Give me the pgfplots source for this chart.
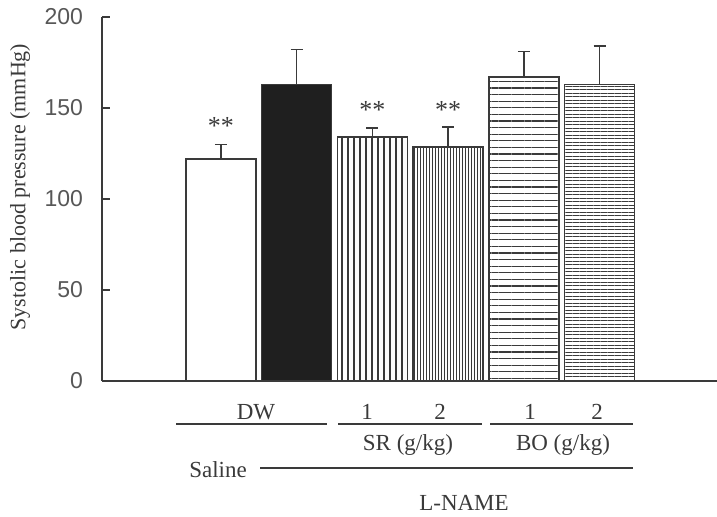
\documentclass[border=0pt]{standalone}
\usepackage{fontspec}
\setmainfont{Liberation Serif}
\newfontfamily\arialfont{Liberation Sans}
\usepackage{pgfplots}
\pgfplotsset{compat=1.18}
\usetikzlibrary{patterns.meta}
\definecolor{ink}{HTML}{3A3A3A}
\begin{document}
\begin{tikzpicture}
\path[use as bounding box] (-51pt,-68pt) rectangle (307.5pt,190.5pt);
\begin{axis}[
  at={(0,0)}, anchor=south west,
  scale only axis, width=307.5pt, height=182pt,
  xmin=-1.57, xmax=6.55, ymin=0, ymax=200,
  axis x line=bottom, axis y line=left,
  axis line style={-, ink, line width=1pt},
  xtick=\empty,
  ytick={0,50,...,200},
  tick align=inside, major tick length=4pt,
  tick style={ink, line width=0.8pt},
  yticklabel style={font=\arialfont\fontsize{11.5}{13}\selectfont, text=ink!85, xshift=-6pt},
  /pgf/number format/assume math mode=true,
  clip=false,
  error bars/y dir=plus, error bars/y explicit,
  error bars/error mark options={rotate=90, mark size=3pt, line width=0.7pt, ink},
  error bars/error bar style={line width=0.7pt, ink},
]
\addplot[ybar, bar width=35pt, bar shift=0pt, draw=ink, fill=white, line width=0.7pt] coordinates {(0,122) +- (0,8)};
\addplot[ybar, bar width=35pt, bar shift=0pt, draw=ink, fill=black!88, line width=0.7pt] coordinates {(1,163) +- (0,19)};
\addplot[ybar, bar width=35pt, bar shift=0pt, draw=ink, line width=0.7pt, pattern={Lines[angle=90,distance=3pt,line width=0.6pt]}, pattern color=ink] coordinates {(2,134) +- (0,5)};
\addplot[ybar, bar width=35pt, bar shift=0pt, draw=ink, line width=0.7pt, pattern={Lines[angle=90,distance=1.5pt,line width=0.5pt]}, pattern color=ink] coordinates {(3,128.5) +- (0,11)};
\addplot[ybar, bar width=35pt, bar shift=0pt, draw=ink, line width=0.7pt, pattern={Lines[angle=0,distance=3.3pt,line width=0.6pt]}, pattern color=ink] coordinates {(4,167) +- (0,14)};
\addplot[ybar, bar width=35pt, bar shift=0pt, draw=ink, line width=0.7pt, pattern={Lines[angle=0,distance=1.75pt,line width=0.5pt]}, pattern color=ink] coordinates {(5,163) +- (0,21)};
\node[font=\fontsize{13}{13}\selectfont, text=ink] at (axis cs:0,140) {**};
\node[font=\fontsize{13}{13}\selectfont, text=ink] at (axis cs:2,149) {**};
\node[font=\fontsize{13}{13}\selectfont, text=ink] at (axis cs:3,149) {**};
\end{axis}
\begin{scope}[every node/.style={font=\fontsize{11.5}{13}\selectfont, text=ink}]
\node[rotate=90, font=\fontsize{11}{13}\selectfont] at (-41pt,97pt) {Systolic blood pressure (mmHg)};
\node at (77pt,-15.5pt) {DW};
\node at (132.5pt,-15.5pt) {1};
\node at (169pt,-15.5pt) {2};
\node at (214pt,-15.5pt) {1};
\node at (247.5pt,-15.5pt) {2};
\draw[ink, line width=0.6pt] (37pt,-21.5pt) -- (112.5pt,-21.5pt);
\draw[ink, line width=0.6pt] (118pt,-21.5pt) -- (190pt,-21.5pt);
\draw[ink, line width=0.6pt] (194pt,-21.5pt) -- (265.5pt,-21.5pt);
\node at (153pt,-32pt) {SR (g/kg)};
\node at (230.5pt,-32pt) {BO (g/kg)};
\node at (58pt,-44.5pt) {Saline};
\draw[ink, line width=0.6pt] (79pt,-43.5pt) -- (265.5pt,-43.5pt);
\node at (181pt,-61pt) {L-NAME};
\end{scope}
\end{tikzpicture}
\end{document}
